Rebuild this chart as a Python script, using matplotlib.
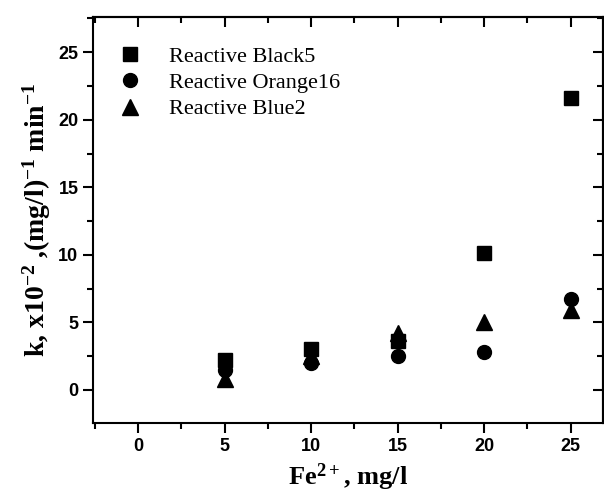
import numpy as np
import matplotlib.pyplot as plt
from matplotlib.ticker import MultipleLocator

plt.rcParams['mathtext.fontset'] = 'custom'
plt.rcParams['mathtext.rm'] = 'Liberation Serif:bold'
plt.rcParams['mathtext.default'] = 'rm'

# Fe2+ dose, mg/l
fe = [5, 10, 15, 20, 25]

# rate constants k x10^-2 (mg/l)^-1 min^-1
black5 = [2.2, 3.0, 3.6, 10.1, 21.6]
orange16 = [1.5, 2.0, 2.5, 2.8, 6.7]
blue2 = [0.8, 2.5, 4.2, 5.0, 5.9]

labels = ['Reactive Black5', 'Reactive Orange16', 'Reactive Blue2']

fig = plt.figure(figsize=(6.04, 4.95), dpi=100)
ax = fig.add_axes([0.154, 0.1455, 0.845, 0.82])

ax.plot(fe, black5, 's', color='black', ms=10, label=labels[0])
ax.plot(fe, orange16, 'o', color='black', ms=10, label=labels[1])
ax.plot(fe, blue2, '^', color='black', ms=11, label=labels[2])

ax.set_xlim(-2.6, 26.9)
ax.set_ylim(-2.45, 27.6)

ax.xaxis.set_major_locator(MultipleLocator(5))
ax.xaxis.set_minor_locator(MultipleLocator(2.5))
ax.yaxis.set_major_locator(MultipleLocator(5))
ax.yaxis.set_minor_locator(MultipleLocator(2.5))

ax.tick_params(which='both', direction='out', width=1.5,
               top=False, right=False)
ax.tick_params(which='major', length=7)
ax.tick_params(which='minor', length=4)
for lab in ax.get_xticklabels() + ax.get_yticklabels():
    lab.set_fontweight('bold')
    lab.set_fontsize(13)
    lab.set_family('Liberation Sans')

# mirrored inward ticks on top and right
sec_x = ax.secondary_xaxis('top')
sec_x.xaxis.set_major_locator(MultipleLocator(5))
sec_x.xaxis.set_minor_locator(MultipleLocator(2.5))
sec_x.tick_params(which='both', direction='in', width=1.5, labeltop=False)
sec_x.tick_params(which='major', length=7)
sec_x.tick_params(which='minor', length=4)
sec_y = ax.secondary_yaxis('right')
sec_y.yaxis.set_major_locator(MultipleLocator(5))
sec_y.yaxis.set_minor_locator(MultipleLocator(2.5))
sec_y.tick_params(which='both', direction='in', width=1.5, labelright=False)
sec_y.tick_params(which='major', length=7)
sec_y.tick_params(which='minor', length=4)

for sp in ax.spines.values():
    sp.set_linewidth(1.5)
for s in (sec_x, sec_y):
    for sp in s.spines.values():
        sp.set_linewidth(1.5)

ax.set_xlabel('Fe$^{2+}$, mg/l', family='Liberation Serif', fontweight='bold',
              fontsize=19, labelpad=5)
ax.set_ylabel('k, x10$^{-2}$ ,(mg/l)$^{-1}$ min$^{-1}$', family='Liberation Serif',
              fontweight='bold', fontsize=20, labelpad=4)

leg = ax.legend(loc='upper left', frameon=False, bbox_to_anchor=(-0.014, 0.982),
                prop={'family': 'Liberation Serif', 'size': 16},
                handletextpad=0.75, labelspacing=0.25, borderaxespad=0.6)

fig.savefig('out.png', dpi=100)
